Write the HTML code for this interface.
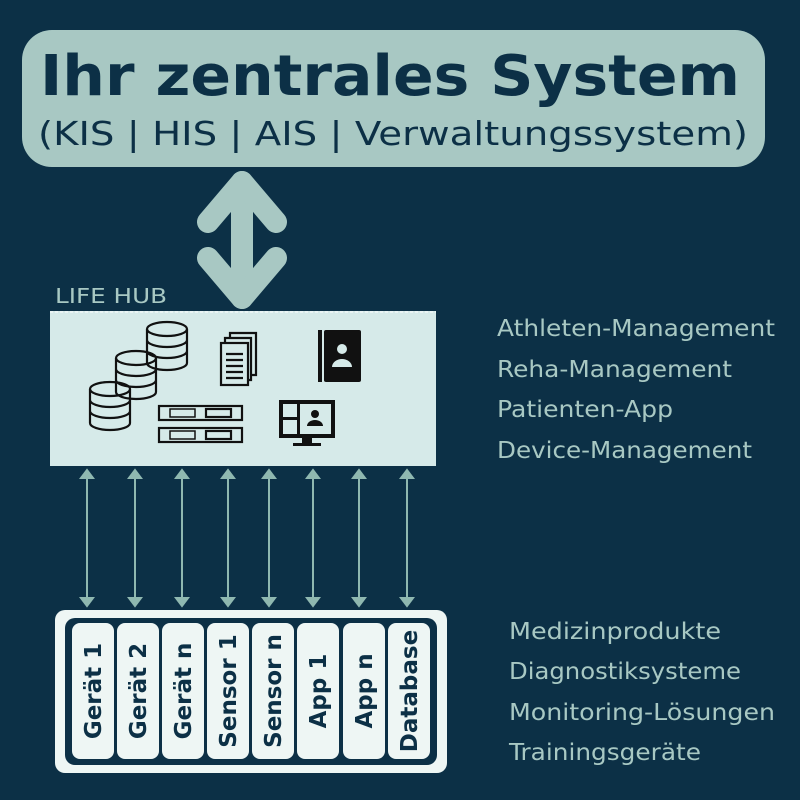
<!DOCTYPE html>
<html><head><meta charset="utf-8"><style>
body{margin:0;background:#0c3046;}
svg{display:block}
text{font-family:"DejaVu Sans","Liberation Sans",sans-serif;}
</style></head><body>
<svg width="800" height="800" viewBox="0 0 800 800" xmlns="http://www.w3.org/2000/svg">
<rect width="800" height="800" fill="#0c3046"/>
<rect x="22" y="30" width="743" height="137" rx="30" fill="#a8c8c3"/>
<text x="390" y="95" text-anchor="middle" font-size="56" font-weight="bold" fill="#0c3046" textLength="700" lengthAdjust="spacingAndGlyphs">Ihr zentrales System</text>
<text x="393" y="145" text-anchor="middle" font-size="33" fill="#0c3046" textLength="710" lengthAdjust="spacingAndGlyphs">(KIS | HIS | AIS | Verwaltungssystem)</text>
<g stroke="#a8c8c3" stroke-width="22" stroke-linecap="round" stroke-linejoin="round" fill="none">
<line x1="242" y1="182" x2="242" y2="298"/>
<polyline points="208,222 242,182 276,222"/>
<polyline points="208,258 242,298 276,258"/>
</g>
<text x="55" y="303" font-size="20" fill="#a8c8c3" textLength="112" lengthAdjust="spacingAndGlyphs">LIFE HUB</text>
<rect x="50" y="311" width="386" height="155" fill="#d6eae9"/>
<line x1="50" y1="312" x2="436" y2="312" stroke="#fff" stroke-dasharray="3,2"/>
<g fill="none" stroke="#111" stroke-width="2.2">
<g id="db"><ellipse cx="167" cy="329" rx="20" ry="7"/><path d="M147 329v34a20 7 0 0 0 40 0v-34M147 340a20 7 0 0 0 40 0M147 351a20 7 0 0 0 40 0"/></g>
<use href="#db" x="-31" y="29"/>
<use href="#db" x="-57" y="60"/>
<rect x="221" y="343" width="27" height="42" fill="#d6eae9"/>
<path d="M225 343v-5h26v42h-3M230 338v-5h26v42h-4"/>
<path d="M226 354h17M226 360h17M226 366h17M226 372h17M226 378h17"/>
<rect x="159" y="406" width="83" height="14"/><rect x="159" y="428" width="83" height="14"/>
<rect x="170" y="409" width="25" height="8" stroke-width="1.5"/><rect x="170" y="431" width="25" height="8" stroke-width="1.5"/>
<rect x="206" y="409" width="25" height="8"/><rect x="206" y="431" width="25" height="8"/>
</g>
<rect x="318" y="330" width="4" height="52" fill="#111"/>
<rect x="324" y="330" width="37" height="52" rx="2" fill="#111"/>
<circle cx="342" cy="349" r="5" fill="#d6eae9"/><path d="M332 367a10 8 0 0 1 20 0z" fill="#d6eae9"/>
<rect x="279" y="400" width="56" height="38" fill="#111"/>
<rect x="283" y="404" width="14" height="13" fill="#d6eae9"/><rect x="283" y="420" width="14" height="14" fill="#d6eae9"/><rect x="300" y="404" width="31" height="30" fill="#d6eae9"/>
<circle cx="315" cy="414" r="4" fill="#111"/><path d="M307 426a8 6 0 0 1 16 0z" fill="#111"/>
<rect x="302" y="438" width="10" height="6" fill="#111"/><rect x="293" y="443" width="28" height="3" fill="#111"/>
<g stroke="#8fb8b0" stroke-width="2" fill="#8fb8b0">
<g id="ar"><line x1="87" y1="472" x2="87" y2="604"/><path d="M81 478l6-8 6 8zM81 598l6 8 6-8z"/></g>
<use href="#ar" x="48"/><use href="#ar" x="95"/><use href="#ar" x="141"/><use href="#ar" x="182"/><use href="#ar" x="226"/><use href="#ar" x="272"/><use href="#ar" x="320"/>
</g>
<g font-size="23" fill="#a8c8c3">
<text x="497" y="336" textLength="278" lengthAdjust="spacingAndGlyphs">Athleten-Management</text>
<text x="497" y="377" textLength="235" lengthAdjust="spacingAndGlyphs">Reha-Management</text>
<text x="497" y="417" textLength="176" lengthAdjust="spacingAndGlyphs">Patienten-App</text>
<text x="497" y="458" textLength="255" lengthAdjust="spacingAndGlyphs">Device-Management</text>
<text x="509" y="639" textLength="212" lengthAdjust="spacingAndGlyphs">Medizinprodukte</text>
<text x="509" y="679" textLength="232" lengthAdjust="spacingAndGlyphs">Diagnostiksysteme</text>
<text x="509" y="720" textLength="266" lengthAdjust="spacingAndGlyphs">Monitoring-Lösungen</text>
<text x="509" y="760" textLength="192" lengthAdjust="spacingAndGlyphs">Trainingsgeräte</text>
</g>
<rect x="55" y="610" width="392" height="163" rx="10" fill="#eef6f4"/>
<rect x="65" y="618" width="372" height="147" rx="10" fill="#0c3046"/>
<g fill="#eef6f4">
<rect x="72" y="623" width="42" height="136" rx="8"/><rect x="117" y="623" width="42" height="136" rx="8"/><rect x="162" y="623" width="42" height="136" rx="8"/><rect x="207" y="623" width="42" height="136" rx="8"/><rect x="252" y="623" width="42" height="136" rx="8"/><rect x="297" y="623" width="42" height="136" rx="8"/><rect x="343" y="623" width="42" height="136" rx="8"/><rect x="388" y="623" width="42" height="136" rx="8"/>
</g>
<g font-size="23" font-weight="bold" fill="#0c3046" text-anchor="middle">
<text transform="translate(101,691) rotate(-90)">Gerät 1</text>
<text transform="translate(146,691) rotate(-90)">Gerät 2</text>
<text transform="translate(191,691) rotate(-90)">Gerät n</text>
<text transform="translate(236,691) rotate(-90)">Sensor 1</text>
<text transform="translate(281,691) rotate(-90)">Sensor n</text>
<text transform="translate(326,691) rotate(-90)">App 1</text>
<text transform="translate(372,691) rotate(-90)">App n</text>
<text transform="translate(417,691) rotate(-90)">Database</text>
</g>
</svg>
</body></html>
